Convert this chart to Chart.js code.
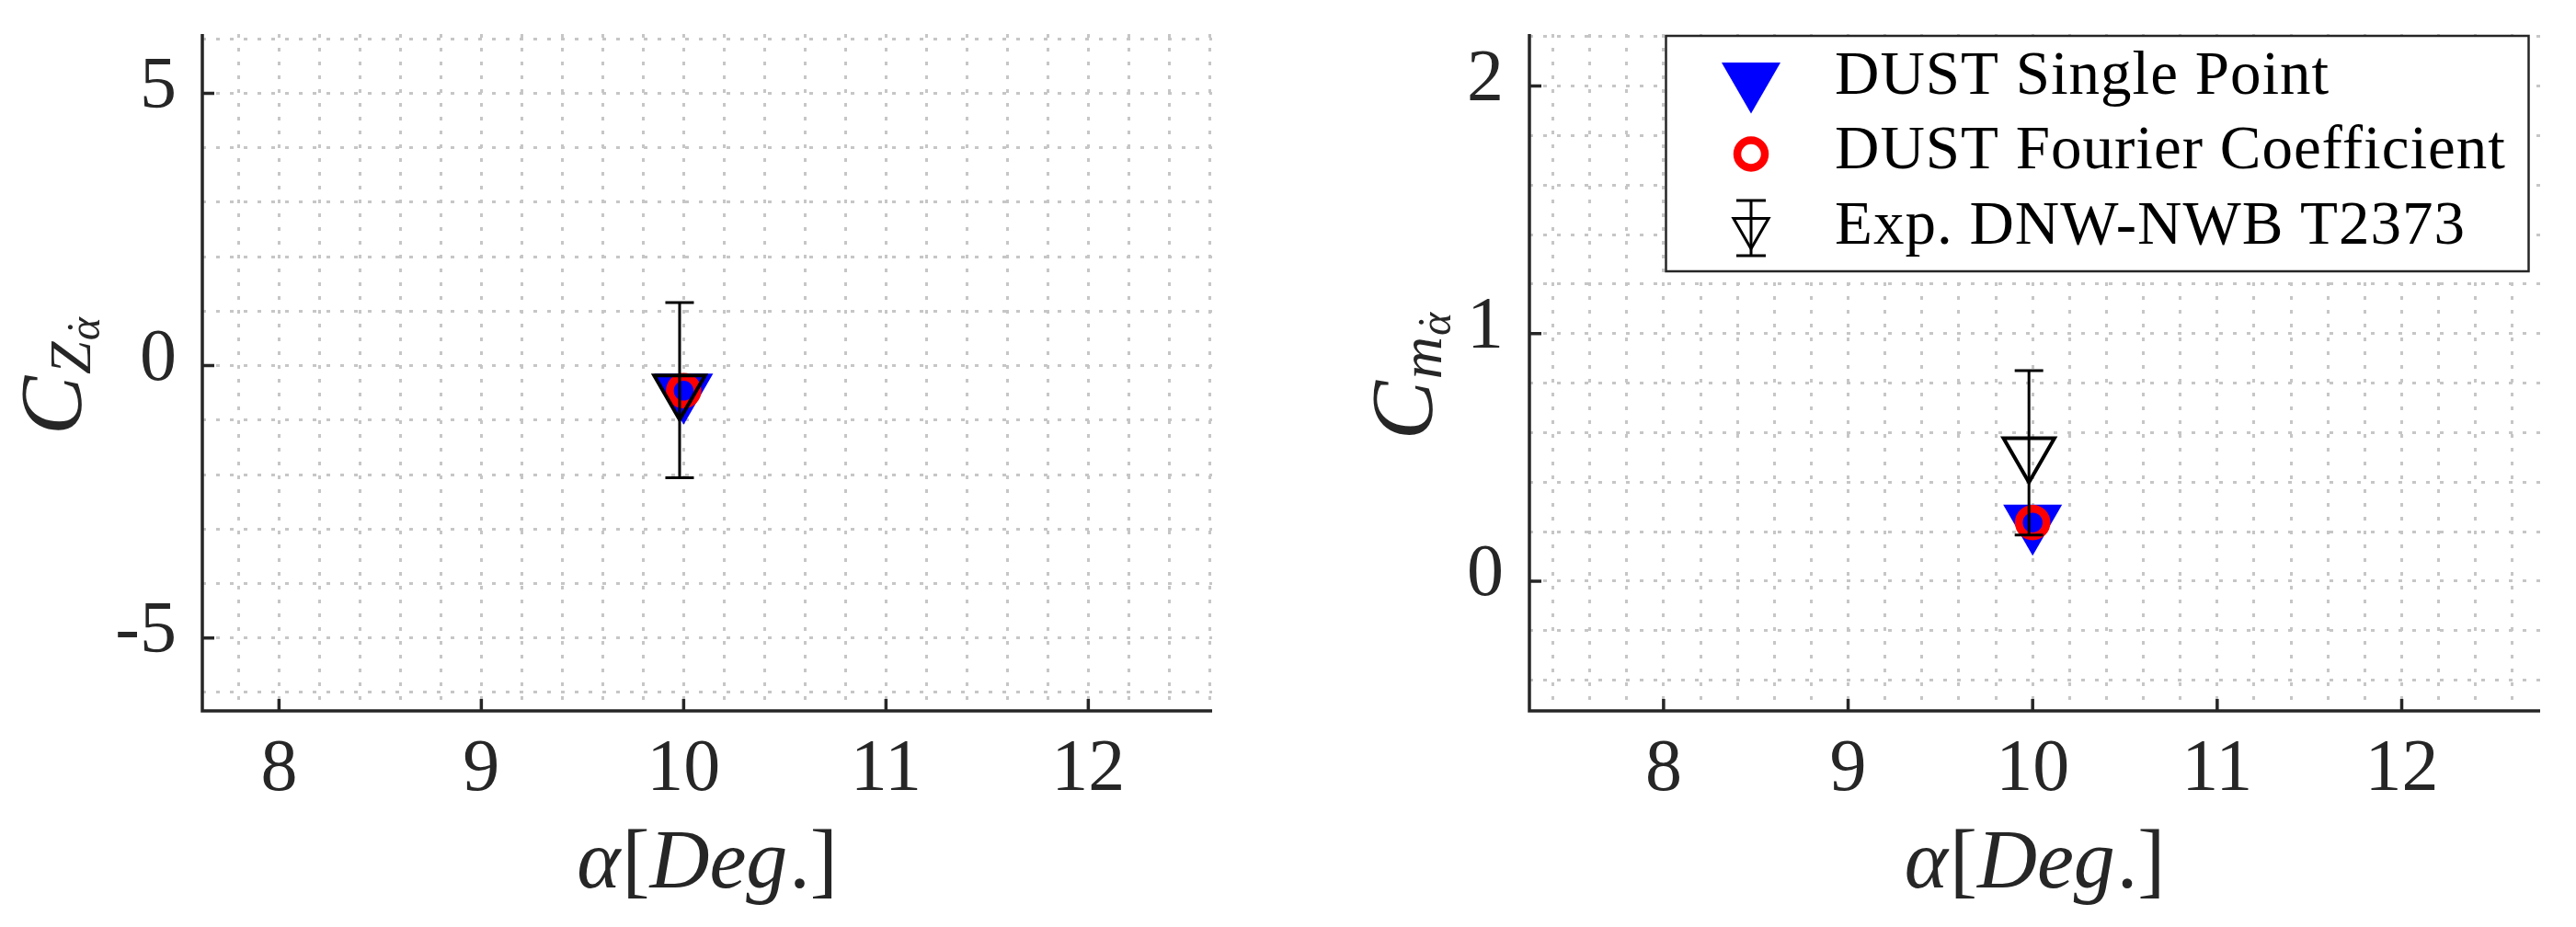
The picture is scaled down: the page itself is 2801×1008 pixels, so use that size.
<!DOCTYPE html>
<html>
<head>
<meta charset="utf-8">
<script src="https://cdn.jsdelivr.net/npm/chart.js@4.4.1/dist/chart.umd.min.js"></script>
<style>
  html, body { margin: 0; padding: 0; background: #fff; }
  #wrap { position: relative; width: 2801px; height: 1008px; overflow: hidden; }
  .panel { position: absolute; top: 0; height: 1008px; }
</style>
</head>
<body>
<div id="wrap">
  <div class="panel" style="left:0;width:1400px"><canvas id="czChart"></canvas></div>
  <div class="panel" style="left:1400px;width:1401px"><canvas id="cmChart"></canvas></div>
</div>
<script>
// Data
const alphaDust = [10];
const alphaExp = [9.98];
const czSingle = [-0.46];
const czFourier = [-0.46];
const czExp = [-0.45];
const czExpErr = [1.61];
const cmSingle = [0.24];
const cmFourier = [0.237];
const cmExp = [0.518];
const cmExpErr = [0.332];
const xTicks = [8, 9, 10, 11, 12];
const czTicks = [-5, 0, 5];
const cmTicks = [0, 1, 2];
const seriesNames = ['DUST Single Point', 'DUST Fourier Coefficient', 'Exp. DNW-NWB T2373'];

const SERIF = '"Liberation Serif", "Times New Roman", serif';
const AXIS = '#262626';
const GRID = '#c6c6c6';

// grid line positions (minor + major)
function steps(from, to, step) {
  const out = [];
  for (let v = from; v <= to + 1e-9; v += step) out.push(Math.round(v * 100) / 100);
  return out;
}

const panels = [
  {
    id: 'czChart', width: 1400, yAxisW: 220, rightPad: 82,
    xMin: 7.621, xMax: 12.612, yMin: -6.34, yMax: 6.09,
    xGrid: steps(7.8, 12.6, 0.2), yGrid: steps(-6, 6, 1), yTicks: czTicks,
    single: czSingle, fourier: czFourier, exp: czExp, err: czExpErr,
    ySub: 'Z', yTitleX: 88, legend: false
  },
  {
    id: 'cmChart', width: 1401, yAxisW: 263, rightPad: 39,
    xMin: 7.273, xMax: 12.75, yMin: -0.524, yMax: 2.21,
    xGrid: steps(7.4, 12.6, 0.2), yGrid: steps(-0.4, 2.2, 0.2), yTicks: cmTicks,
    single: cmSingle, fourier: cmFourier, exp: cmExp, err: cmExpErr,
    ySub: 'm', yTitleX: 157, legend: true
  }
];

function font(size, italic) {
  return (italic ? 'italic ' : '') + size + 'px ' + SERIF;
}

// draw a list of text runs centred on cx, each with its own font and baseline shift
function drawRuns(ctx, runs, cx, baseY) {
  let total = 0;
  runs.forEach(r => {
    ctx.font = r.f;
    r.w = ctx.measureText(r.t).width;
    if (!r.over) total += r.w + (r.gap || 0);
  });
  let x = cx - total / 2;
  let prev = null;
  ctx.textAlign = 'left';
  ctx.textBaseline = 'alphabetic';
  runs.forEach(r => {
    ctx.font = r.f;
    if (r.over && prev) {
      // accent centred over the previous run
      ctx.fillText(r.t, prev.x + prev.w / 2 - r.w / 2 + (r.dx || 0), baseY + (r.dy || 0));
      return;
    }
    ctx.fillText(r.t, x, baseY + (r.dy || 0));
    prev = { x: x, w: r.w };
    x += r.w + (r.gap || 0);
  });
}

function triangleDown(ctx, x, y, r) {
  ctx.beginPath();
  for (let k = 0; k < 3; k++) {
    const a = Math.PI + k * 2 * Math.PI / 3;
    const px = x + Math.sin(a) * r, py = y - Math.cos(a) * r;
    if (k === 0) ctx.moveTo(px, py); else ctx.lineTo(px, py);
  }
  ctx.closePath();
}

function errorBar(ctx, x, yTop, yBot, half) {
  ctx.beginPath();
  ctx.moveTo(x, yTop); ctx.lineTo(x, yBot);
  ctx.moveTo(x - half, yTop); ctx.lineTo(x + half, yTop);
  ctx.moveTo(x - half, yBot); ctx.lineTo(x + half, yBot);
  ctx.stroke();
}

// axes lines, inward ticks, error bars, titles and legend
function decorations(p) {
  return {
    id: 'decorations',
    afterDatasetsDraw(chart) {
      const ctx = chart.ctx;
      const xs = chart.scales.x, ys = chart.scales.y;
      ctx.save();
      ctx.strokeStyle = '#000';
      ctx.lineWidth = 3;
      alphaExp.forEach((a, i) => {
        const x = xs.getPixelForValue(a);
        errorBar(ctx, x, ys.getPixelForValue(p.exp[i] + p.err[i]), ys.getPixelForValue(p.exp[i] - p.err[i]), 15.5);
      });
      ctx.restore();
    },
    afterDraw(chart) {
      const ctx = chart.ctx;
      const a = chart.chartArea;
      const xs = chart.scales.x, ys = chart.scales.y;
      ctx.save();
      ctx.strokeStyle = AXIS;
      ctx.lineWidth = 3.5;
      ctx.beginPath();
      ctx.moveTo(a.left, a.top); ctx.lineTo(a.left, a.bottom); ctx.lineTo(a.right, a.bottom);
      xTicks.forEach(v => { const x = xs.getPixelForValue(v); ctx.moveTo(x, a.bottom); ctx.lineTo(x, a.bottom - 13); });
      p.yTicks.forEach(v => { const y = ys.getPixelForValue(v); ctx.moveTo(a.left, y); ctx.lineTo(a.left + 13, y); });
      ctx.stroke();

      // x title
      ctx.fillStyle = AXIS;
      drawRuns(ctx, [
        { t: 'α', f: font(90, true), gap: 2 },
        { t: '[', f: font(90, false) },
        { t: 'Deg', f: font(90, true), gap: 2 },
        { t: '.', f: font(90, false) },
        { t: ']', f: font(90, false) }
      ], (a.left + a.right) / 2, 965);

      // y title (rotated)
      ctx.save();
      ctx.translate(p.yTitleX, (a.top + a.bottom) / 2 + 4);
      ctx.rotate(-Math.PI / 2);
      drawRuns(ctx, [
        { t: 'C', f: font(96, true), gap: 2 },
        { t: p.ySub, f: font(64, true), dy: 10, gap: 1 },
        { t: 'α', f: font(48, true), dy: 20 },
        { t: '˙', f: font(48, false), dy: 18, dx: 2, over: true }
      ], 0, 0);
      ctx.restore();

      if (p.legend) {
        const L = 411.5, R = 1349.5, T = 39, B = 295;
        ctx.fillStyle = '#fff';
        ctx.fillRect(L, T, R - L, B - T);
        ctx.lineWidth = 2.5;
        ctx.strokeStyle = AXIS;
        ctx.strokeRect(L, T, R - L, B - T);

        const mx = 504, tx = 595;
        // DUST Single Point
        ctx.fillStyle = '#0000ff';
        triangleDown(ctx, mx, 86.5, 37);
        ctx.fill();
        // DUST Fourier Coefficient
        ctx.strokeStyle = '#ff0000';
        ctx.lineWidth = 8.5;
        ctx.beginPath(); ctx.arc(mx, 167.5, 15, 0, Math.PI * 2); ctx.stroke();
        // Exp
        ctx.strokeStyle = '#000';
        ctx.lineWidth = 3;
        errorBar(ctx, mx, 218, 278, 16);
        triangleDown(ctx, mx, 248.5, 22);
        ctx.stroke();

        ctx.fillStyle = '#000';
        ctx.font = font(67, false);
        ctx.letterSpacing = '1px';
        ctx.textAlign = 'left';
        ctx.textBaseline = 'alphabetic';
        ctx.fillText(seriesNames[0], tx, 101.7);
        ctx.fillText(seriesNames[1], tx, 183.3);
        ctx.fillText(seriesNames[2], tx, 265);
      }
      ctx.restore();
    }
  };
}

function gridScale(min, max, grid, labels, extra) {
  return Object.assign({
    type: 'linear',
    min: min,
    max: max,
    bounds: 'data',
    afterBuildTicks: s => { s.ticks = grid.map(v => ({ value: v })); },
    ticks: {
      autoSkip: false,
      maxRotation: 0,
      color: AXIS,
      font: { family: SERIF, size: 80, lineHeight: 1 },
      callback: v => labels.includes(Math.round(v * 100) / 100) ? String(Math.round(v)) : ''
    },
    grid: { color: GRID, lineWidth: 3, drawTicks: false },
    border: { display: false, dash: [4, 11] }
  }, extra);
}

panels.forEach(p => {
  const canvas = document.getElementById(p.id);
  canvas.width = p.width;
  canvas.height = 1008;
  new Chart(canvas, {
    type: 'scatter',
    data: {
      datasets: [
        {
          label: seriesNames[0],
          data: alphaDust.map((x, i) => ({ x: x, y: p.single[i] })),
          pointStyle: 'triangle', pointRotation: 180, pointRadius: 37, pointHoverRadius: 37,
          pointBackgroundColor: '#0000ff', pointBorderWidth: 0, pointHoverBorderWidth: 0, order: 3
        },
        {
          label: seriesNames[1],
          data: alphaDust.map((x, i) => ({ x: x, y: p.fourier[i] })),
          pointStyle: 'circle', pointRadius: 15, pointHoverRadius: 15,
          pointBackgroundColor: 'rgba(0,0,0,0)', pointBorderColor: '#ff0000',
          pointBorderWidth: 8.5, pointHoverBorderWidth: 8.5, order: 2
        },
        {
          label: seriesNames[2],
          data: alphaExp.map((x, i) => ({ x: x, y: p.exp[i] })),
          pointStyle: 'triangle', pointRotation: 180, pointRadius: 32, pointHoverRadius: 32,
          pointBackgroundColor: 'rgba(0,0,0,0)', pointBorderColor: '#000000',
          pointBorderWidth: 4, pointHoverBorderWidth: 4, order: 1
        }
      ]
    },
    options: {
      responsive: false,
      animation: false,
      events: [],
      devicePixelRatio: 1,
      layout: { padding: { left: 0, top: 34, right: p.rightPad, bottom: 0 } },
      plugins: { legend: { display: false }, tooltip: { enabled: false } },
      scales: {
        x: gridScale(p.xMin, p.xMax, p.xGrid, xTicks, {
          position: 'bottom',
          afterFit: s => { s.height = 235; s.paddingLeft = 0; s.paddingRight = 0; }
        }),
        y: gridScale(p.yMin, p.yMax, p.yGrid, p.yTicks, {
          position: 'left',
          afterFit: s => { s.width = p.yAxisW; s.paddingTop = 0; s.paddingBottom = 0; }
        })
      }
    },
    plugins: [decorations(p)]
  });
  // tick label offsets matching the reference
  const ch = Chart.getChart(canvas);
  ch.options.scales.x.ticks.padding = 25;
  ch.options.scales.y.ticks.padding = 28;
  ch.options.scales.y.ticks.labelOffset = -6;
  ch.update();
});
</script>
</body>
</html>
